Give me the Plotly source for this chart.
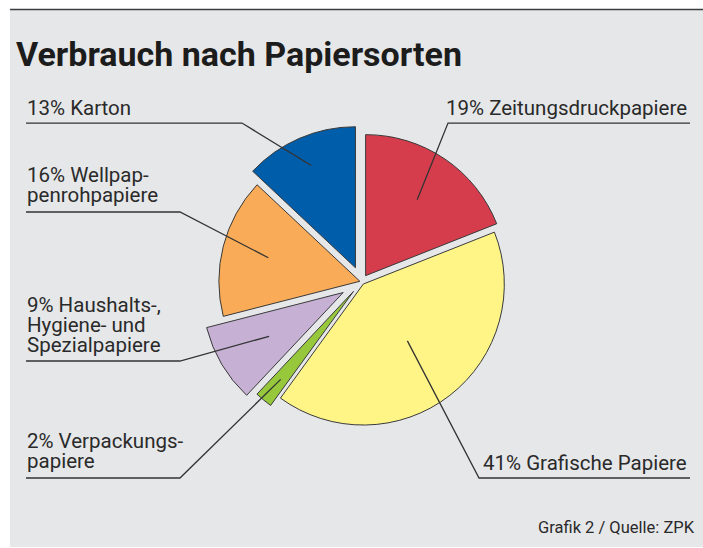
import math
import plotly.graph_objects as go

# ---------------- data ----------------
categories = [
    "Zeitungsdruckpapiere",
    "Grafische Papiere",
    "Verpackungspapiere",
    "Haushalts-, Hygiene- und Spezialpapiere",
    "Wellpappenrohpapiere",
    "Karton",
]
shares = [19, 41, 2, 9, 16, 13]
label_rest = [
    ["Zeitungsdruckpapiere"],
    ["Grafische Papiere"],
    ["Verpackungs-", "papiere"],
    ["Haushalts-,", "Hygiene- und", "Spezialpapiere"],
    ["Wellpap-", "penrohpapiere"],
    ["Karton"],
]
title_text = "Verbrauch nach Papiersorten"
source_text = "Grafik 2 / Quelle: ZPK"

# ---------------- style / layout ----------------
W, H = 703, 548
colors = ["#d53d4d", "#fff486", "#97c83c", "#c6b1d5", "#f9ab57", "#005da9"]
pulls = [0.052, 0.021, 0.089, 0.151, 0.012, 0.108]
leader_depth = [0.65, 0.51, 0.81, 0.61, 0.67, 0.79]   # radial fraction of leader end
CX, CY, R = 361.5, 281.7, 141.0                        # pixel centre / radius
FONT = "Roboto, Liberation Sans, Arial, sans-serif"
TXT = "#2a2a2a"
LBL = 20.5

label_pos = [
    dict(side="right", x=689, base=[115], uy=123, x0=690, ex=448),
    dict(side="right", x=689, base=[470], uy=478, x0=690, ex=479),
    dict(side="left", x=25, base=[448, 468], uy=478, x0=26, ex=180),
    dict(side="left", x=25, base=[312, 332, 352], uy=361, x0=26, ex=180),
    dict(side="left", x=25, base=[182, 202], uy=212, x0=26, ex=180),
    dict(side="left", x=25, base=[115], uy=123, x0=26, ex=242),
]


def px(x):
    return x / W


def py(y):
    return 1 - y / H


maxp = max(pulls)
box = 2 * R * (1 + maxp)
dom_x = [px(CX - box / 2), px(CX + box / 2)]
dom_y = [py(CY + box / 2), py(CY - box / 2)]

fig = go.Figure(
    go.Pie(
        labels=categories,
        values=shares,
        sort=False,
        direction="clockwise",
        rotation=0,
        pull=pulls,
        marker=dict(colors=colors, line=dict(color="#3a3a3a", width=1)),
        textinfo="none",
        hoverinfo="label+percent",
        showlegend=False,
        domain=dict(x=dom_x, y=dom_y),
    )
)

shapes = [
    # white surround and top rule
    dict(type="rect", xref="paper", yref="paper", x0=0, x1=px(10), y0=0, y1=1,
         fillcolor="white", line=dict(width=0), layer="below"),
    dict(type="rect", xref="paper", yref="paper", x0=0, x1=1, y0=py(9), y1=1,
         fillcolor="white", line=dict(width=0), layer="below"),
    dict(type="rect", xref="paper", yref="paper", x0=0, x1=1, y0=0, y1=py(547),
         fillcolor="white", line=dict(width=0), layer="below"),
    dict(type="line", xref="paper", yref="paper", x0=px(10), x1=1, y0=py(9.5), y1=py(9.5),
         line=dict(color="#3c3c3c", width=1.5)),
]
annotations = []

total = sum(shares)
cum = 0
for i, v in enumerate(shares):
    mid = (cum + v / 2) / total * 2 * math.pi
    cum += v
    ux, uy = math.sin(mid), -math.cos(mid)
    d = (pulls[i] + leader_depth[i]) * R
    ix, iy = CX + d * ux, CY + d * uy
    lp = label_pos[i]
    path = "M {:.4f},{:.4f} L {:.4f},{:.4f} L {:.4f},{:.4f}".format(
        px(lp["x0"]), py(lp["uy"]), px(lp["ex"]), py(lp["uy"]), px(ix), py(iy))
    shapes.append(dict(type="path", xref="paper", yref="paper", path=path,
                       line=dict(color="#333333", width=1.3)))
    lines = list(label_rest[i])
    lines[0] = f"{v}% " + lines[0]
    for j, t in enumerate(lines):
        annotations.append(dict(
            text=t, xref="paper", yref="paper", x=px(lp["x"]),
            y=py(lp["base"][j] - 0.34 * LBL), xanchor=lp["side"], yanchor="middle",
            showarrow=False, font=dict(family=FONT, size=LBL, color=TXT)))

annotations.append(dict(
    text="<b>" + title_text + "</b>", xref="paper", yref="paper", x=px(14), y=py(66 - 0.34 * 34),
    xanchor="left", yanchor="middle", showarrow=False,
    font=dict(family=FONT, size=34, color="#1c1c1c")))
annotations.append(dict(
    text=source_text, xref="paper", yref="paper", x=px(697), y=py(533 - 0.34 * 16.5),
    xanchor="right", yanchor="middle", showarrow=False,
    font=dict(family=FONT, size=16.5, color=TXT)))

fig.update_layout(
    width=W, height=H,
    margin=dict(l=0, r=0, t=0, b=0),
    paper_bgcolor="#e6e7e9",
    plot_bgcolor="#e6e7e9",
    shapes=shapes,
    annotations=annotations,
)

fig.write_html("out.html", config={"displayModeBar": False},
               post_script="document.body.style.margin='0';")
